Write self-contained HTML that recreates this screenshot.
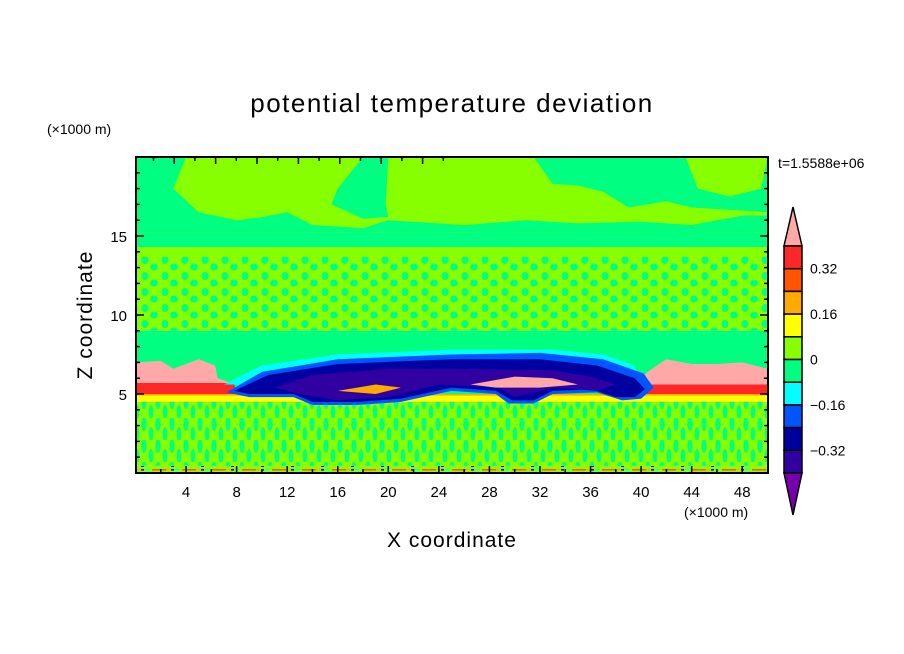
<!DOCTYPE html>
<html><head><meta charset="utf-8"><style>
html,body{margin:0;padding:0;background:#fff;}
svg{display:block;font-family:"Liberation Sans",sans-serif;}
</style></head><body>
<svg id="chart" width="904" height="654" viewBox="0 0 904 654">
<defs>
<pattern id="streaks" patternUnits="userSpaceOnUse" width="14" height="22">
<rect width="14" height="22" fill="#88ff00"/>
<ellipse cx="4" cy="6" rx="2.6" ry="7" fill="#00ff80"/>
<ellipse cx="11" cy="16" rx="2.4" ry="7" fill="#00ff80"/>
</pattern>
<pattern id="speck" patternUnits="userSpaceOnUse" width="20" height="16">
<rect width="20" height="16" fill="#88ff00"/>
<ellipse cx="5" cy="4" rx="3.5" ry="4" fill="#00ff80"/>
<ellipse cx="14" cy="11" rx="4" ry="3.5" fill="#00ff80"/>
</pattern>
<pattern id="bottomrow" patternUnits="userSpaceOnUse" width="30" height="6">
<rect width="30" height="6" fill="#88ff00"/>
<rect x="2" y="1" width="14" height="3" fill="#ff5500"/>
<rect x="16" y="1" width="4" height="3" fill="#ffaa00"/>
<rect x="21" y="1" width="3" height="4" fill="#3000a0"/>
<rect x="25" y="1" width="4" height="3" fill="#00ffff"/>
</pattern>
<clipPath id="plotclip"><rect x="136" y="157" width="632" height="316"/></clipPath>
</defs>
<g id="field" clip-path="url(#plotclip)"></g>
<g id="axes"></g>
<g id="cbar"></g>
<text x="452" y="112" text-anchor="middle" font-size="26" letter-spacing="1.5">potential temperature deviation</text>
<text x="47" y="134" font-size="14">(×1000 m)</text>
<text x="684" y="517" font-size="14">(×1000 m)</text>
<text x="778" y="168" font-size="14">t=1.5588e+06</text>
<text x="452" y="547" text-anchor="middle" font-size="21" letter-spacing="1">X coordinate</text>
<text transform="translate(92,315) rotate(-90)" text-anchor="middle" font-size="21" letter-spacing="1">Z coordinate</text>
</svg>
<script>
// axis domains
const xDomain = [0, 50];
const zDomain = [0, 20];
const xTicks = [4, 8, 12, 16, 20, 24, 28, 32, 36, 40, 44, 48];
const zTicks = [5, 10, 15];
// full-width horizontal bands [z0, z1]
const bandZ0 = [0, 0.15, 0.45, 4.6, 4.5, 9.0, 13.7, 14.3, 15.2];
const bandZ1 = [0.15, 0.45, 4.6, 4.95, 4.9, 13.7, 14.3, 15.2, 20];
const bandFill = ["#88ff00","url(#bottomrow)","url(#streaks)","#88ff00","#ffff00","url(#speck)","#88ff00","#00ff80","#88ff00"];
// mid-layer bands
const midZ0 = [4.9, 5.0];
const midZ1 = [5.0, 9.0];
const midFill = ["#ffaa00","#00ff80"];
// polygons [x km, z km]
const topGreen1 = [[0,20],[4,20],[3,18],[5,16.5],[8,16],[10,16.2],[12,16.5],[14,15.7],[18,15.5],[20,16],[26,15.7],[31,16],[35,15.8],[40,15.9],[44,15.7],[48,16.3],[50,16.3],[50,15.2],[0,15.2]];
const topGreen2 = [[18,20],[20,20],[19.8,17],[20,16.2],[18,16.1],[15.5,17],[16,18]];
const topGreen3 = [[31.5,20],[43.5,20],[44.5,18],[47,17.5],[49.5,18],[50,20],[50,16.5],[44,16.8],[42,17.2],[39,16.8],[37,17.8],[35,18.2],[33,18.3]];
const redLeft = [[0,5.0],[8,5.0],[7.8,5.7],[0,5.7]];
const redRight = [[39,5.0],[50,5.0],[50,5.6],[39.5,5.6]];
const warmLeft = [[0,5.7],[0,7.0],[2,7.1],[3,6.6],[5,7.2],[6.3,6.8],[6.5,6.0],[7.6,5.7]];
const warmRight = [[39.5,5.6],[40.5,6.4],[42,7.2],[44,6.9],[46,6.9],[48,7.0],[50,6.6],[50,5.6]];
const cyanBand = [[7,5.6],[10,6.8],[16,7.5],[25,7.8],[33,7.8],[37,7.5],[39.5,6.8],[40,5.4]];
const blueBlob = [[7.2,5.1],[10,6.4],[16,7.2],[25,7.5],[32,7.6],[37,7.2],[40.2,6.3],[41,5.4],[40,4.7],[38.5,4.6],[36.5,5.1],[33,5.0],[31.5,4.4],[29.5,4.4],[28.5,5.0],[25,5.2],[21,4.5],[17.5,4.3],[14,4.3],[12.5,4.8],[9,4.8]];
const navyBlob = [[7.8,5.2],[10.5,6.2],[16,6.9],[25,7.2],[32,7.2],[36.5,6.8],[39.5,6.0],[40.3,5.3],[39.5,4.8],[38,4.8],[36,5.3],[33,5.2],[31.5,4.6],[29.8,4.6],[28.5,5.2],[25,5.4],[21,4.7],[17.5,4.5],[14,4.5],[12.5,5.0],[9,5.0]];
const purpleCore = [[11,5.4],[14,6.2],[20,6.6],[26,6.6],[33,6.5],[36,6.1],[38,5.6],[36.5,5.2],[33,5.4],[30,4.8],[28.8,5.4],[24,5.6],[20,4.8],[16,4.6],[13,5.0]];
const innerWarm = [[16,5.2],[19,5.6],[21,5.4],[19,5.0]];
const innerWarm2 = [[26.5,5.6],[30,6.1],[33,6.0],[35,5.6],[32,5.4],[28.5,5.4]];
const polys = [topGreen1, topGreen2, topGreen3, redLeft, redRight, warmLeft, warmRight, cyanBand, blueBlob, navyBlob, purpleCore, innerWarm, innerWarm2];
const polyFill = ["#00ff80","#00ff80","#00ff80","#ff2828","#ff2828","#ffa8a8","#ffa8a8","#00ffff","#0055ff","#0000a0","#3000a0","#ffaa00","#ffa8a8"];
const polyNames = ["upper-green-region-1","upper-green-region-2","upper-green-region-3","warm-layer-left","warm-layer-right","warm-anomaly-left","warm-anomaly-right","cyan-layer","cold-pool-outer","cold-pool-middle","cold-pool-core","warm-pocket-1","warm-pocket-2"];
// colorbar
const cbColors = ["#ff2828","#ff5500","#ffaa00","#ffff00","#88ff00","#00ff80","#00ffff","#0055ff","#0000a0","#3000a0"];
const cbLabels = ["0.32","0.16","0","\u22120.16","\u22120.32"];
const cbTop = "#ffa8a8", cbBottom = "#7700aa";

const NS = "http://www.w3.org/2000/svg";
const X0=135.5, X1=767.5, Y0=473, Y1=157;
const xs = v => X0 + (v - xDomain[0]) / (xDomain[1]-xDomain[0]) * (X1-X0);
const zs = v => Y0 - (v - zDomain[0]) / (zDomain[1]-zDomain[0]) * (Y0-Y1);
function mk(tag, attrs, parent){const e=document.createElementNS(NS,tag);for(const k in attrs)e.setAttribute(k,attrs[k]);parent.appendChild(e);return e;}
const field = document.getElementById("field");
for (let i=0;i<bandZ0.length;i++){
  const r = mk("rect",{x:X0,y:zs(bandZ1[i]),width:X1-X0,height:zs(bandZ0[i])-zs(bandZ1[i]),fill:bandFill[i]},field);
  
  
}
for (let i=0;i<midZ0.length;i++){
  const r = mk("rect",{x:X0,y:zs(midZ1[i]),width:X1-X0,height:zs(midZ0[i])-zs(midZ1[i]),fill:midFill[i]},field);
  
  
}
for (let i=0;i<polys.length;i++){
  const p = mk("polygon",{points:polys[i].map(q=>xs(q[0])+","+zs(q[1])).join(" "),fill:polyFill[i]},field);
  
  
}
// axes
const ax = document.getElementById("axes");
const frame = mk("rect",{x:136,y:157,width:632,height:316,fill:"none",stroke:"#000","stroke-width":2},ax);


for (let v=2; v<50; v+=2){
  const L = v%4===0 ? 7 : 4;
  mk("line",{x1:xs(v),x2:xs(v),y1:Y0,y2:Y0-L,stroke:"#000","stroke-width":1.5},ax);
}
for (let k=0;k<15;k++){
  const x = 153.5 + k*41.4/2; if (x>766) break;
  const L = k%2===1 ? 7 : 4;
  mk("line",{x1:x,x2:x,y1:Y1,y2:Y1+L,stroke:"#000","stroke-width":1.5},ax);
}
for (let v=1; v<20; v++){
  const L = v%5===0 ? 8 : 4;
  mk("line",{x1:136,x2:136+L,y1:zs(v),y2:zs(v),stroke:"#000","stroke-width":1.5},ax);
  mk("line",{x1:768,x2:768-L,y1:zs(v),y2:zs(v),stroke:"#000","stroke-width":1.5},ax);
}
xTicks.forEach(v=>{
  const t = mk("text",{x:xs(v),y:497,"text-anchor":"middle","font-size":15},ax);
  t.textContent = v;
  
  
});
zTicks.forEach(v=>{
  const t = mk("text",{x:127,y:zs(v)+6,"text-anchor":"end","font-size":15},ax);
  t.textContent = v;
  
  
});
// colorbar
const cb = document.getElementById("cbar");
const cbX=784, cbW=18, cbY=246, cbH=22.7;
const tri1 = mk("polygon",{points:`${cbX},${cbY} ${cbX+cbW},${cbY} ${cbX+cbW/2},207`,fill:cbTop,stroke:"#000","stroke-width":1.5},cb);


cbColors.forEach((c,i)=>{
  const r = mk("rect",{x:cbX,y:cbY+i*cbH,width:cbW,height:cbH,fill:c,stroke:"#000","stroke-width":1.5},cb);
  
  
});
const yb = cbY+cbColors.length*cbH;
const tri2 = mk("polygon",{points:`${cbX},${yb} ${cbX+cbW},${yb} ${cbX+cbW/2},515`,fill:cbBottom,stroke:"#000","stroke-width":1.5},cb);


cbLabels.forEach((s,i)=>{
  const t = mk("text",{x:810,y:cbY+(2*i+1)*cbH+5,"font-size":14},cb);
  t.textContent = s;
  
  
});
</script>
</body></html>
